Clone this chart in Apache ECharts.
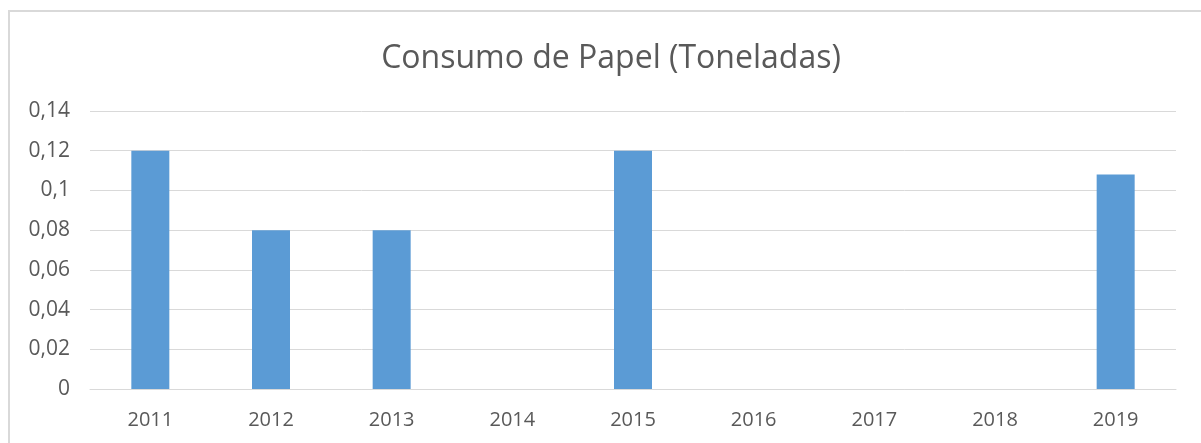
<!DOCTYPE html>
<html><head><meta charset="utf-8">
<script src="https://cdn.jsdelivr.net/npm/echarts@6/dist/echarts.min.js"></script>
<style>html,body{margin:0;padding:0;background:#fff}#c{width:1201px;height:443px}</style>
</head><body><div id="c"></div>
<script>
const years = ['2011','2012','2013','2014','2015','2016','2017','2018','2019'];
const consumo = [0.12, 0.08, 0.08, 0, 0.12, 0, 0, 0, 0.108];
const titleText = 'Consumo de Papel (Toneladas)';
const chart = echarts.init(document.getElementById('c'));
const font = '"Open Sans", sans-serif';
chart.setOption({
  animation: false,
  backgroundColor: '#fff',
  title: { text: titleText, left: 606, textAlign: 'center', top: 38,
    textStyle: { fontFamily: font, fontSize: 32, fontWeight: 'normal', color: '#595959' } },
  graphic: [
    { type: 'line', shape: { x1: 9, y1: 11, x2: 9, y2: 443 }, style: { stroke: '#d9d9d9', lineWidth: 2 } },
    { type: 'line', shape: { x1: 8, y1: 11, x2: 1201, y2: 11 }, style: { stroke: '#d9d9d9', lineWidth: 2 } }
  ],
  grid: { left: 90, right: 25, top: 111, bottom: 54 },
  xAxis: { type: 'category', data: years,
    axisLine: { lineStyle: { color: '#d9d9d9' } }, axisTick: { show: false },
    axisLabel: { fontFamily: font, fontSize: 20, color: '#595959', margin: 21 } },
  yAxis: { type: 'value', min: 0, max: 0.14, interval: 0.02,
    axisLine: { show: false }, axisTick: { show: false },
    splitLine: { lineStyle: { color: '#d9d9d9' } },
    axisLabel: { fontFamily: font, fontSize: 21, color: '#595959', margin: 20,
      formatter: v => String(Math.round(v * 100) / 100).replace('.', ',') } },
  series: [{ type: 'bar', data: consumo, barWidth: 38, itemStyle: { color: '#5b9bd5' } }]
});
</script></body></html>
